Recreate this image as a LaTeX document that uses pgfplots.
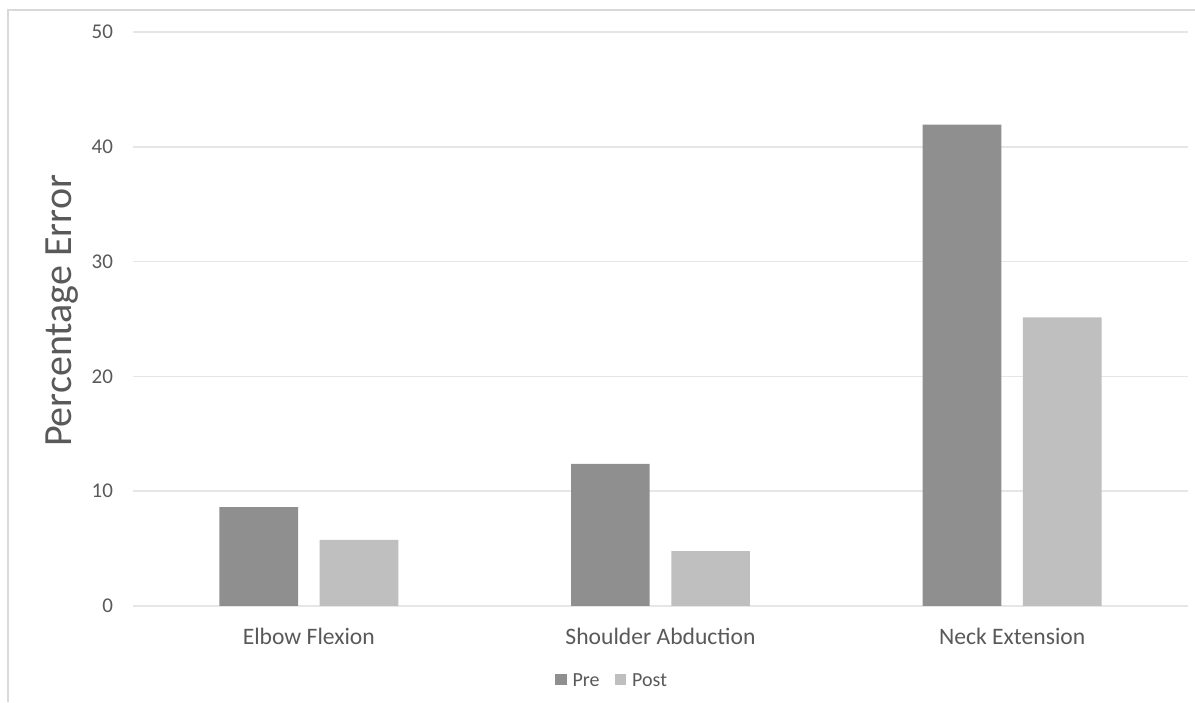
\documentclass[border=0pt]{standalone}
\usepackage{pgfplots}
\pgfplotsset{compat=1.18}
\usepackage{fontspec}
\setmainfont{Carlito}

\definecolor{prec}{HTML}{8F8F8F}
\definecolor{postc}{HTML}{BFBFBF}
\definecolor{txt}{HTML}{595959}
\definecolor{gridc}{HTML}{E6E6E6}
\definecolor{framec}{HTML}{D9D9D9}

\begin{document}
\begin{tikzpicture}
% 1 px of the reference = 0.5pt
\useasboundingbox (0,0) rectangle (597.5pt,351pt);
\draw[framec, line width=1pt] (4pt,0) -- (4pt,346pt) -- (597.5pt,346pt);
\begin{axis}[
    at={(66.5pt,48pt)}, anchor=south west,
    scale only axis,
    width=527.5pt, height=287pt,
    xmin=-0.5, xmax=2.5,
    ymin=0, ymax=50,
    ytick={0,10,...,50},
    xtick={0,1,2},
    xticklabels={Elbow Flexion, Shoulder Abduction, Neck Extension},
    axis line style={draw=none},
    major tick length=0pt,
    ymajorgrids,
    grid style={gridc, line width=0.8pt},
    yticklabel style={font=\fontsize{10.5}{12}\selectfont, text=txt, xshift=-6.5pt},
    xticklabel style={font=\fontsize{11.8}{14}\selectfont, text=txt, yshift=-7.5pt},
    /pgf/number format/assume math mode=true,
    ylabel={Percentage Error},
    ylabel style={font=\fontsize{20}{24}\selectfont, text=txt,
        at={(axis description cs:-0.067,0.514)}, anchor=center},
    ybar, bar width=0.2237,
]
\addplot[draw=none, fill=prec, bar shift=-0.1425] coordinates {(0,8.62) (1,12.37) (2,41.93)};
\addplot[draw=none, fill=postc, bar shift=0.1425] coordinates {(0,5.75) (1,4.79) (2,25.15)};
\end{axis}
% legend below the plot
\node[font=\fontsize{10}{12}\selectfont, text=txt] at (305.5pt,11pt) {%
  \tikz[baseline=-0.7ex]\fill[prec] (0,-2.9pt) rectangle (5.8pt,2.9pt);\hspace{3pt}Pre\hspace{7.5pt}%
  \tikz[baseline=-0.7ex]\fill[postc] (0,-2.9pt) rectangle (5.8pt,2.9pt);\hspace{3pt}Post};
\end{tikzpicture}
\end{document}
